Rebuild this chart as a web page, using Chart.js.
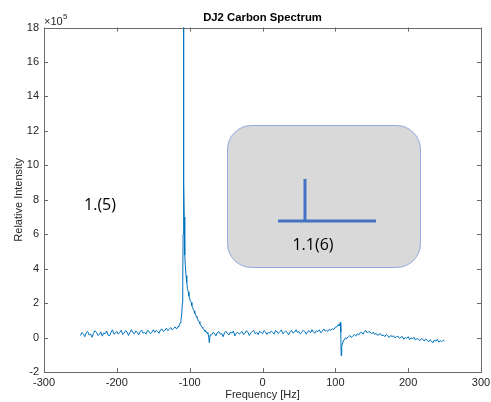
<!DOCTYPE html>
<html>
<head>
<meta charset="utf-8">
<script src="https://cdn.jsdelivr.net/npm/chart.js@4"></script>
<style>
  html, body { margin: 0; padding: 0; background: #fff; }
  #wrap { width: 491px; height: 402px; }
</style>
</head>
<body>
<div id="wrap"><canvas id="spectrum"></canvas></div>
<script>
// Frequency [Hz] and intensity (x 10^5) in segments
const freqLeft = [-250,-248,-246,-244,-242,-240,-238,-236,-234,-232,-230,-228,-226,-224,-222,-220,-218,-216,-214,-212,-210,-208,-206,-204,-202,-200,
  -198,-196,-194,-192,-190,-188,-186,-184,-182,-180,-178,-176,-174,-172,-170,-168,-166,-164,-162,-160,-158,-156,-154,-152,-150,
  -148,-146,-144,-142,-140,-138,-136,-134,-132,-130,-128,-126,-124,-122,-120,-118,-116]
const intLeft = [0.12,0.3,0.22,0.05,0.28,0.35,0.15,0.2,0.02,0.25,0.4,0.3,0.12,0.18,0.33,0.08,0.26,0.22,0.38,0.15,0.1,0.3,0.45,0.2,0.25,0.35,
  0.2,0.3,0.42,0.18,0.25,0.4,0.32,0.12,0.3,0.46,0.28,0.22,0.38,0.3,0.15,0.35,0.44,0.26,0.3,0.2,0.42,0.36,0.24,0.3,0.45,
  0.3,0.42,0.35,0.25,0.45,0.5,0.36,0.42,0.55,0.4,0.48,0.58,0.45,0.52,0.62,0.5,0.65]

const freqPeak = [-115,-114,-113,-112,-111,-110,-109.5,-109,-108.6,-108.2,-107.9,-107.5,-107,-106.5,-106,
  -105,-104,-103,-102,-101,-100,-99,-98,-97,-96,-95,-94,-93,-92,-91,-90,-89,-88,-87,-86,-85,-84,-83,-82,-81,-80,-79,-78,-77,-76,-75,-74,-73,-72]
const intPeak = [0.62,0.75,0.85,1.0,1.3,2.0,3.2,6,40,14,9,7,5.6,4.8,4.2,
  3.6,3.2,2.85,2.65,2.4,2.3,2.1,2.05,1.85,1.75,1.62,1.55,1.4,1.38,1.22,1.15,1.08,0.95,0.92,0.8,0.74,0.66,0.6,0.55,0.46,0.44,0.36,0.38,0.28,0.3,0.22,0.1,-0.3,0.15]

const freqMid = [-70,-68,-66,-64,-62,-60,-58,-56,-54,-52,-50,-48,-46,-44,-42,-40,-38,-36,-34,-32,
  -30,-28,-26,-24,-22,-20,-18,-16,-14,-12,-10,-8,-6,-4,-2,0,2,4,6,8,
  10,12,14,16,18,20,22,24,26,28,30,32,34,36,38,40,42,44,46,48,
  50,52,54,56,58,60,62,64,66,68,70,72,74,76,78,80,82,84,86,88,
  90,92,94,96,98,100,102,104]
const intMid = [0.15,0.3,0.25,0.1,0.28,0.35,0.2,0.24,0.05,0.3,0.36,0.22,0.15,0.32,0.26,0.38,0.1,0.25,0.3,0.2,
  0.28,0.35,0.18,0.25,0.4,0.3,0.12,0.28,0.34,0.42,0.22,0.3,0.16,0.36,0.3,0.22,0.4,0.33,0.18,0.3,
  0.26,0.38,0.3,0.2,0.42,0.32,0.25,0.36,0.44,0.22,0.3,0.38,0.28,0.16,0.35,0.4,0.26,0.32,0.45,0.3,
  0.35,0.22,0.3,0.42,0.36,0.2,0.34,0.4,0.28,0.46,0.32,0.25,0.4,0.34,0.45,0.28,0.36,0.5,0.38,0.42,
  0.36,0.48,0.42,0.52,0.46,0.6,0.62,0.75]

const freqDisp = [105,106,107,107.5,108,108.5,109,110,111,112,113,114]
const intDisp = [0.68,0.78,0.88,0.3,-1.05,-0.75,-0.5,-0.32,-0.2,-0.12,-0.05,-0.02]

const freqRight = [116,118,120,122,124,126,128,130,132,134,136,138,140,142,144,146,148,
  150,152,154,156,158,160,162,164,166,168,170,172,174,176,178,180,182,184,
  186,188,190,192,194,196,198,200,202,204,206,208,210,212,214,216,218,220,
  222,224,226,228,230,232,234,236,238,240,242,244,246,248,250]
const intRight = [-0.05,0.05,0.12,0.0,0.1,0.18,0.08,0.22,0.15,0.28,0.3,0.2,0.35,0.4,0.26,0.35,0.3,
  0.22,0.32,0.18,0.25,0.12,0.2,0.22,0.1,0.15,0.05,0.18,0.1,0.0,0.12,0.06,0.1,-0.02,0.05,
  0.08,-0.05,0.02,0.06,-0.1,0.0,-0.04,0.05,-0.12,-0.02,-0.08,0.02,-0.15,-0.05,-0.1,-0.18,-0.06,-0.12,
  -0.2,-0.08,-0.15,-0.25,-0.12,-0.2,-0.3,-0.14,-0.22,-0.1,-0.26,-0.18,-0.24,-0.15,-0.2]

const xTicks = [-300,-200,-100,0,100,200,300]
const yTicks = [-2,0,2,4,6,8,10,12,14,16,18]

const freq = [...freqLeft, ...freqPeak, ...freqMid, ...freqDisp, ...freqRight]
const intensity = [...intLeft, ...intPeak, ...intMid, ...intDisp, ...intRight]
const points = freq.map((f, i) => ({ x: f, y: intensity[i] }))

const axisColor = '#6b6b6b'
const textColor = '#262626'
const fontFam = '"Liberation Sans", Arial, Helvetica, sans-serif'

// MATLAB style box with inward ticks, exponent label and the pasted drawing
const boxPlugin = {
  id: 'boxPlugin',
  afterDraw(chart) {
    const ctx = chart.ctx
    const a = chart.chartArea
    const xs = chart.scales.x
    const ys = chart.scales.y
    ctx.save()
    ctx.strokeStyle = axisColor
    ctx.lineWidth = 1
    ctx.strokeRect(Math.round(a.left) + 0.5, Math.round(a.top) + 0.5, Math.round(a.right - a.left), Math.round(a.bottom - a.top))
    ctx.beginPath()
    xTicks.forEach(t => {
      const px = Math.round(xs.getPixelForValue(t)) + 0.5
      ctx.moveTo(px, a.bottom); ctx.lineTo(px, a.bottom - 4)
      ctx.moveTo(px, a.top); ctx.lineTo(px, a.top + 4)
    })
    yTicks.forEach(t => {
      const py = Math.round(ys.getPixelForValue(t)) + 0.5
      ctx.moveTo(a.left, py); ctx.lineTo(a.left + 4, py)
      ctx.moveTo(a.right, py); ctx.lineTo(a.right - 4, py)
    })
    ctx.stroke()

    // x10^5
    ctx.fillStyle = textColor
    ctx.textBaseline = 'alphabetic'
    ctx.textAlign = 'left'
    ctx.font = '11px ' + fontFam
    ctx.fillText('\u00d710', a.left, a.top - 3)
    ctx.font = '8px ' + fontFam
    ctx.fillText('5', a.left + 19, a.top - 9)

    // pasted rounded box
    ctx.fillStyle = '#d9d9d9'
    ctx.strokeStyle = '#8faadc'
    ctx.lineWidth = 1
    ctx.beginPath()
    ctx.roundRect(227.5, 125.5, 193, 142, 24)
    ctx.fill()
    ctx.stroke()
    ctx.strokeStyle = '#4472c4'
    ctx.lineWidth = 3
    ctx.beginPath()
    ctx.moveTo(305, 179); ctx.lineTo(305, 221)
    ctx.moveTo(278, 221); ctx.lineTo(376, 221)
    ctx.stroke()
    ctx.fillStyle = '#000'
    ctx.font = '16px "Open Sans", "Liberation Sans", sans-serif'
    ctx.textAlign = 'center'
    ctx.textBaseline = 'middle'
    ctx.fillText('1.1(6)', 313, 245)
    ctx.fillText('1.(5)', 100, 205)
    ctx.restore()
  }
}

new Chart(document.getElementById('spectrum'), {
  type: 'line',
  data: {
    datasets: [{
      data: points,
      borderColor: '#0072BD',
      borderWidth: 1,
      borderJoinStyle: 'round',
      pointRadius: 0,
      tension: 0,
      fill: false
    }]
  },
  options: {
    responsive: true,
    maintainAspectRatio: false,
    animation: false,
    layout: { padding: { left: 0, right: 10, top: 0, bottom: 0 } },
    plugins: {
      legend: { display: false },
      tooltip: { enabled: false },
      title: {
        display: true,
        fullSize: false,
        text: 'DJ2 Carbon Spectrum',
        color: '#000',
        font: { family: fontFam, size: 11.3, weight: 'bold' },
        padding: { top: 11, bottom: 3 }
      }
    },
    scales: {
      x: {
        type: 'linear',
        min: -300,
        max: 300,
        afterBuildTicks: s => { s.ticks = xTicks.map(v => ({ value: v })) },
        afterFit: s => { s.height = 30; s.paddingRight = 10; s.paddingLeft = 10 },
        ticks: { color: textColor, font: { family: fontFam, size: 11 }, padding: 4, maxRotation: 0 },
        grid: { display: false, drawTicks: false },
        border: { display: false },
        title: {
          display: true,
          text: 'Frequency [Hz]',
          color: textColor,
          font: { family: fontFam, size: 11 },
          padding: { top: 0, bottom: 0 }
        }
      },
      y: {
        min: -2,
        max: 18,
        afterBuildTicks: s => { s.ticks = yTicks.map(v => ({ value: v })) },
        afterFit: s => { s.width = 44 },
        ticks: { color: textColor, font: { family: fontFam, size: 11 }, padding: 5 },
        grid: { display: false, drawTicks: false },
        border: { display: false },
        title: {
          display: true,
          text: 'Relative Intensity',
          color: textColor,
          font: { family: fontFam, size: 11 },
          padding: { top: 12, bottom: 0 }
        }
      }
    }
  },
  plugins: [boxPlugin]
})
</script>
</body>
</html>
